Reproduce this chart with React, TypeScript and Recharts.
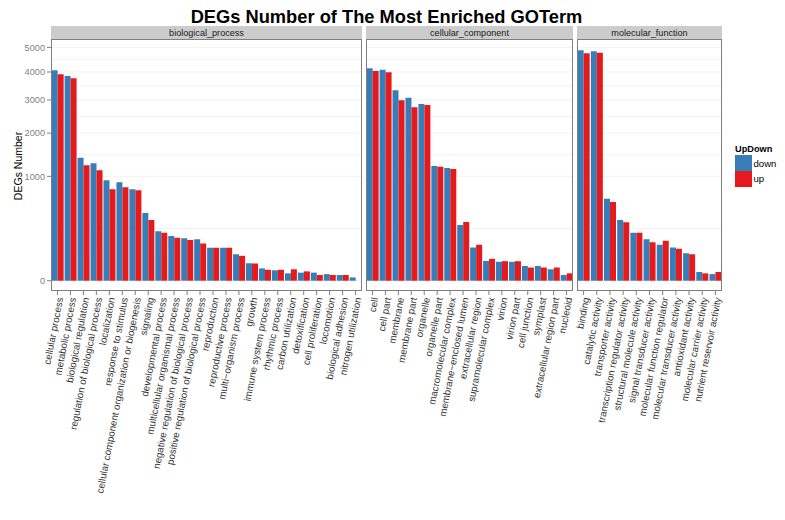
import React from 'react';
import { BarChart, Bar, XAxis, YAxis, CartesianGrid } from 'recharts';

const bpCategories = [
  'cellular process', 'metabolic process', 'biological regulation', 'regulation of biological process',
  'localization', 'response to stimulus', 'cellular component organization or biogenesis', 'signaling',
  'developmental process', 'multicellular organismal process', 'negative regulation of biological process',
  'positive regulation of biological process', 'reproduction', 'reproductive process', 'multi\u2212organism process',
  'growth', 'immune system process', 'rhythmic process', 'carbon utilization', 'detoxification',
  'cell proliferation', 'locomotion', 'biological adhesion', 'nitrogen utilization',
];
const bpDown = [4065, 3848, 1389, 1266, 926, 889, 767, 421, 224, 184, 165, 157, 100, 100, 64, 28, 14, 10, 5, 6, 6, 4, 3, 1];
const bpUp = [3912, 3762, 1223, 1119, 767, 801, 750, 338, 212, 170, 152, 128, 100, 100, 57, 27, 11, 11, 12, 8, 3, 3, 3, 0];

const ccCategories = [
  'cell', 'cell part', 'membrane', 'membrane part', 'organelle', 'organelle part', 'macromolecular complex',
  'membrane\u2212enclosed lumen', 'extracellular region', 'supramolecular complex', 'virion', 'virion part',
  'cell junction', 'symplast', 'extracellular region part', 'nucleoid',
];
const ccDown = [4143, 4088, 3329, 3075, 2867, 1208, 1166, 285, 102, 36, 33, 33, 20, 20, 12, 3];
const ccUp = [4038, 3988, 2988, 2761, 2835, 1194, 1146, 316, 119, 44, 35, 35, 16, 16, 16, 5];

const mfCategories = [
  'binding', 'catalytic activity', 'transporter activity', 'transcription regulator activity',
  'structural molecule activity', 'signal transducer activity', 'molecular function regulator',
  'molecular transducer activity', 'antioxidant activity', 'molecular carrier activity', 'nutrient reservoir activity',
];
const mfDown = [4875, 4830, 617, 338, 212, 157, 119, 102, 69, 7, 4];
const mfUp = [4748, 4774, 569, 313, 212, 135, 147, 94, 64, 5, 7];

const yTicks = [0, 1000, 2000, 3000, 4000, 5000];
const minorGrid = [250, 1457, 2475, 3482, 4486];
const facetNames = ['biological_process', 'cellular_component', 'molecular_function'];
const seriesNames = ['down', 'up'];

const DOWN = '#377EB8';
const UP = '#E41A1C';
const FONT = '"Liberation Sans", Arial, Helvetica, sans-serif';
const Y_DOMAIN: [number, number] = [-9.7, 5364];
const TOP = 39;
const PLOT_H = 252;
const PAD = 24;

const build = (cats: string[], down: number[], up: number[]) =>
  cats.map((name, i) => ({ name, down: down[i], up: up[i] }));

function XTick(props: any) {
  const { x, y, payload } = props;
  return (
    <g transform={`translate(${x},${y})`}>
      <text transform="rotate(-79)" textAnchor="end" dy="0.6em" fontSize={9.8} fill="#333" fontFamily={FONT}>
        {payload.value}
      </text>
    </g>
  );
}

function Panel({ data, width, showY }: { data: any[]; width: number; showY: boolean }) {
  const yW = showY ? 51 : 0;
  const leftPad = showY ? 0 : PAD;
  return (
    <BarChart
      width={width + yW + leftPad + PAD}
      height={520}
      data={data}
      margin={{ top: TOP, right: PAD, bottom: 0, left: leftPad }}
      barCategoryGap="5%"
      barGap={0}
    >
      <CartesianGrid vertical={false} horizontalValues={[...yTicks, ...minorGrid]} stroke="#efefef" strokeWidth={0.8} />
      <XAxis
        dataKey="name"
        interval={0}
        height={520 - TOP - PLOT_H}
        tick={<XTick />}
        tickLine={{ stroke: '#7f7f7f' }}
        tickSize={4}
        axisLine={false}
      />
      <YAxis
        type="number"
        scale="sqrt"
        domain={Y_DOMAIN}
        allowDataOverflow
        ticks={yTicks}
        interval={0}
        width={yW}
        hide={!showY}
        tick={{ fill: '#7f7f7f', fontSize: 9.2, fontFamily: FONT }}
        tickLine={{ stroke: '#7f7f7f' }}
        tickSize={4}
        axisLine={false}
      />
      <Bar dataKey="down" fill={DOWN} isAnimationActive={false} />
      <Bar dataKey="up" fill={UP} isAnimationActive={false} />
    </BarChart>
  );
}

const panels = [
  { left: 51, width: 311, data: build(bpCategories, bpDown, bpUp) },
  { left: 366, width: 207, data: build(ccCategories, ccDown, ccUp) },
  { left: 577, width: 145, data: build(mfCategories, mfDown, mfUp) },
];

export default function App() {
  return (
    <div style={{ position: 'absolute', left: 0, top: 0, width: 785, height: 520, background: '#fff', fontFamily: FONT, overflow: 'hidden' }}>
      {panels.map((p, i) => (
        <div key={i} style={{ position: 'absolute', top: 0, left: i === 0 ? 0 : p.left - PAD }}>
          <Panel data={p.data} width={p.width} showY={i === 0} />
        </div>
      ))}
      <svg width={785} height={520} style={{ position: 'absolute', left: 0, top: 0, pointerEvents: 'none' }}>
        <text x={386.5} y={22.5} textAnchor="middle" fontSize={18.3} fontWeight="bold" fill="#000" fontFamily={FONT}>
          DEGs Number of The Most Enriched GOTerm
        </text>
        {panels.map((p, i) => (
          <g key={i}>
            <rect x={p.left} y={26} width={p.width} height={13} fill="#cccccc" />
            <text x={p.left + p.width / 2} y={35.5} textAnchor="middle" fontSize={9.1} fill="#1a1a1a" fontFamily={FONT}>
              {facetNames[i]}
            </text>
            <rect x={p.left + 0.5} y={TOP + 0.5} width={p.width - 1} height={PLOT_H - 1} fill="none" stroke="#7f7f7f" strokeWidth={1} />
          </g>
        ))}
        <text transform="translate(21.5,166) rotate(-90)" textAnchor="middle" fontSize={10.5} fill="#000" fontFamily={FONT}>
          DEGs Number
        </text>
        <text x={735} y={151.5} fontSize={9.2} fontWeight="bold" fill="#000" fontFamily={FONT}>UpDown</text>
        <rect x={735} y={155} width={17} height={16} fill={DOWN} />
        <rect x={735} y={171} width={17} height={16} fill={UP} />
        <text x={753.5} y={166.5} fontSize={9.6} fill="#000" fontFamily={FONT}>{seriesNames[0]}</text>
        <text x={753.5} y={182} fontSize={9.6} fill="#000" fontFamily={FONT}>{seriesNames[1]}</text>
      </svg>
    </div>
  );
}
